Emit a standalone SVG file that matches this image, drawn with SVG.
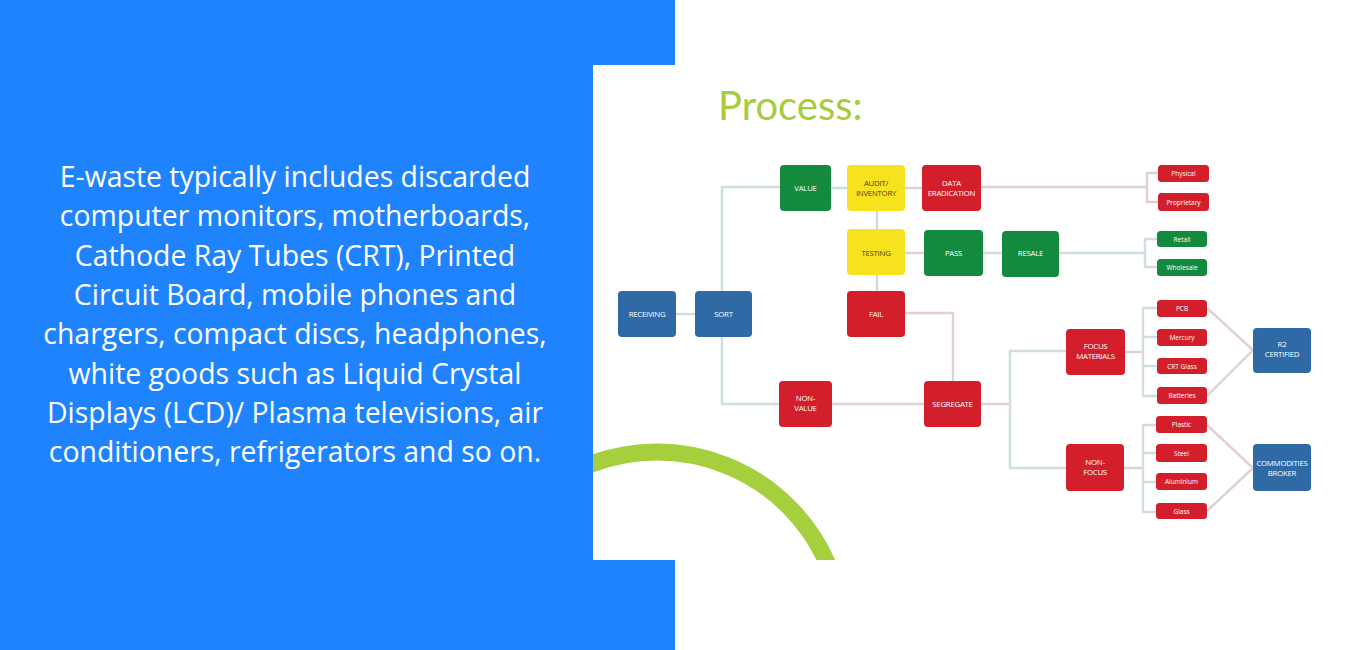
<svg xmlns="http://www.w3.org/2000/svg" width="1350" height="650" viewBox="0 0 1350 650">
<defs>
<style>
.bg{fill:#1f83fe}
.c{fill:none;stroke:#e2cfd2;stroke-width:2.4}
.cb{fill:none;stroke:#cfdde2;stroke-width:2.4}
.red{fill:#d21f2b}
.blu{fill:#2f69a6}
.grn{fill:#138a3e}
.yel{fill:#f6e31d}
.t{font-family:"Open Sans","Liberation Sans",sans-serif;font-size:7.8px;fill:#ffffff;text-anchor:middle;letter-spacing:-0.25px}
.ty{font-family:"Open Sans","Liberation Sans",sans-serif;font-size:7.8px;fill:#4b4420;text-anchor:middle;letter-spacing:-0.25px}
.s{font-family:"Open Sans","Liberation Sans",sans-serif;font-size:6.5px;fill:#ffffff;text-anchor:middle}
.para{font-family:"Open Sans","Liberation Sans",sans-serif;font-size:28.4px;fill:#ffffff;text-anchor:middle}
</style>
<clipPath id="inset"><rect x="593" y="65" width="757" height="495"/></clipPath>
</defs>
<rect x="0" y="0" width="1350" height="650" fill="#ffffff"/>
<rect class="bg" x="0" y="0" width="675" height="650"/>
<rect x="593" y="65" width="757" height="495" fill="#ffffff"/>
<circle cx="657" cy="638" r="186" fill="none" stroke="#a6cf3e" stroke-width="17" clip-path="url(#inset)"/>
<text x="295" y="187" class="para">E-waste typically includes discarded</text>
<text x="295" y="226.3" class="para">computer monitors, motherboards,</text>
<text x="295" y="265.6" class="para">Cathode Ray Tubes (CRT), Printed</text>
<text x="295" y="304.9" class="para">Circuit Board, mobile phones and</text>
<text x="295" y="344.2" class="para">chargers, compact discs, headphones,</text>
<text x="295" y="383.5" class="para">white goods such as Liquid Crystal</text>
<text x="295" y="422.8" class="para">Displays (LCD)/ Plasma televisions, air</text>
<text x="295" y="462.1" class="para">conditioners, refrigerators and so on.</text>
<text x="718" y="120" font-family="Lato, 'Open Sans', sans-serif" font-size="40" fill="#a6cc3c">Process:</text>
<g id="connectors">
<polyline class="cb" points="676,314 695,314"/>
<polyline class="cb" points="780,187 722,187 722,291"/>
<polyline class="cb" points="722,337 722,404 779,404"/>
<polyline class="cb" points="831,188 847,188"/>
<polyline class="c" points="905,188 922,188"/>
<polyline class="c" points="981,187 1147,187"/>
<polyline class="c" points="1158,173 1147,173 1147,202 1158,202"/>
<polyline class="cb" points="877,211 877,229"/>
<polyline class="c" points="905,253 924,253"/>
<polyline class="cb" points="983,253 1002,253"/>
<polyline class="cb" points="1059,253 1145,253"/>
<polyline class="cb" points="1157,239 1145,239 1145,267 1157,267"/>
<polyline class="cb" points="877,275 877,291"/>
<polyline class="c" points="905,313 953,313 953,381"/>
<polyline class="c" points="832,404 924,404"/>
<polyline class="c" points="981,404 1010,404"/>
<polyline class="cb" points="1066,351 1010,351 1010,468 1066,468"/>
<polyline class="c" points="1125,352 1143,352"/>
<polyline class="cb" points="1157,308 1143,308 1143,396 1157,396"/>
<polyline class="cb" points="1143,337 1157,337"/>
<polyline class="cb" points="1143,366 1157,366"/>
<polyline class="c" points="1124,468 1143,468"/>
<polyline class="cb" points="1156,425 1143,425 1143,512 1156,512"/>
<polyline class="cb" points="1143,453 1156,453"/>
<polyline class="cb" points="1143,482 1156,482"/>
<polyline class="c" points="1207,308 1253,350 1207,396"/>
<polyline class="c" points="1207,425 1253,468 1207,511"/>
</g>
<g id="receiving"><rect class="blu" x="618" y="291" width="58" height="46" rx="4"/><text class="t" x="647" y="316.8">RECEIVING</text></g>
<g id="sort"><rect class="blu" x="695" y="291" width="57" height="46" rx="4"/><text class="t" x="723.5" y="316.8">SORT</text></g>
<g id="value"><rect class="grn" x="780" y="165" width="51" height="46" rx="4"/><text class="t" x="805.5" y="190.8">VALUE</text></g>
<g id="non-value"><rect class="red" x="779" y="381" width="53" height="46" rx="4"/><text class="t" x="805.5" y="401">NON-</text><text class="t" x="805.5" y="411">VALUE</text></g>
<g id="audit"><rect class="yel" x="847" y="165" width="58" height="46" rx="4"/><text class="ty" x="876" y="186">AUDIT/</text><text class="ty" x="876" y="195.5">INVENTORY</text></g>
<g id="data-eradication"><rect class="red" x="922" y="165" width="59" height="46" rx="4"/><text class="t" x="951.5" y="186">DATA</text><text class="t" x="951.5" y="195.5">ERADICATION</text></g>
<g id="testing"><rect class="yel" x="847" y="229" width="58" height="46" rx="4"/><text class="ty" x="876" y="255.8">TESTING</text></g>
<g id="pass"><rect class="grn" x="924" y="230" width="59" height="46" rx="4"/><text class="t" x="953.5" y="255.8">PASS</text></g>
<g id="resale"><rect class="grn" x="1002" y="231" width="57" height="46" rx="4"/><text class="t" x="1030.5" y="255.8">RESALE</text></g>
<g id="fail"><rect class="red" x="847" y="291" width="58" height="46" rx="4"/><text class="t" x="876" y="316.8">FAIL</text></g>
<g id="segregate"><rect class="red" x="924" y="381" width="57" height="46" rx="4"/><text class="t" x="952.5" y="406.8">SEGREGATE</text></g>
<g id="focus-materials"><rect class="red" x="1066" y="329" width="59" height="46" rx="4"/><text class="t" x="1095.5" y="349">FOCUS</text><text class="t" x="1095.5" y="358.5">MATERIALS</text></g>
<g id="non-focus"><rect class="red" x="1066" y="444" width="58" height="47" rx="4"/><text class="t" x="1095" y="465">NON-</text><text class="t" x="1095" y="475">FOCUS</text></g>
<g id="physical"><rect class="red" x="1158" y="165" width="51" height="17" rx="3.5"/><text class="s" x="1183.5" y="176">Physical</text></g>
<g id="proprietary"><rect class="red" x="1158" y="193" width="51" height="18" rx="3.5"/><text class="s" x="1183.5" y="204.5">Proprietary</text></g>
<g id="retail"><rect class="grn" x="1157" y="231" width="50" height="16" rx="3.5"/><text class="s" x="1182" y="241.5">Retail</text></g>
<g id="wholesale"><rect class="grn" x="1157" y="259" width="50" height="17" rx="3.5"/><text class="s" x="1182" y="270">Wholesale</text></g>
<g id="pcb"><rect class="red" x="1157" y="300" width="50" height="17" rx="3.5"/><text class="s" x="1182" y="311">PCB</text></g>
<g id="mercury"><rect class="red" x="1157" y="329" width="50" height="17" rx="3.5"/><text class="s" x="1182" y="340">Mercury</text></g>
<g id="crt-glass"><rect class="red" x="1157" y="358" width="50" height="16" rx="3.5"/><text class="s" x="1182" y="368.5">CRT Glass</text></g>
<g id="batteries"><rect class="red" x="1157" y="387" width="50" height="17" rx="3.5"/><text class="s" x="1182" y="398">Batteries</text></g>
<g id="plastic"><rect class="red" x="1156" y="416" width="51" height="17" rx="3.5"/><text class="s" x="1181.5" y="427">Plastic</text></g>
<g id="steel"><rect class="red" x="1156" y="444" width="51" height="18" rx="3.5"/><text class="s" x="1181.5" y="455.5">Steel</text></g>
<g id="aluminium"><rect class="red" x="1156" y="473" width="51" height="17" rx="3.5"/><text class="s" x="1181.5" y="484">Aluminium</text></g>
<g id="glass"><rect class="red" x="1156" y="503" width="51" height="16" rx="3.5"/><text class="s" x="1181.5" y="513.5">Glass</text></g>
<g id="r2-certified"><rect class="blu" x="1253" y="328" width="58" height="45" rx="4"/><text class="t" x="1282" y="347">R2</text><text class="t" x="1282" y="356.5">CERTIFIED</text></g>
<g id="commodities-broker"><rect class="blu" x="1253" y="444" width="58" height="47" rx="4"/><text class="t" x="1282" y="466">COMMODITIES</text><text class="t" x="1282" y="475.5">BROKER</text></g>
</svg>
